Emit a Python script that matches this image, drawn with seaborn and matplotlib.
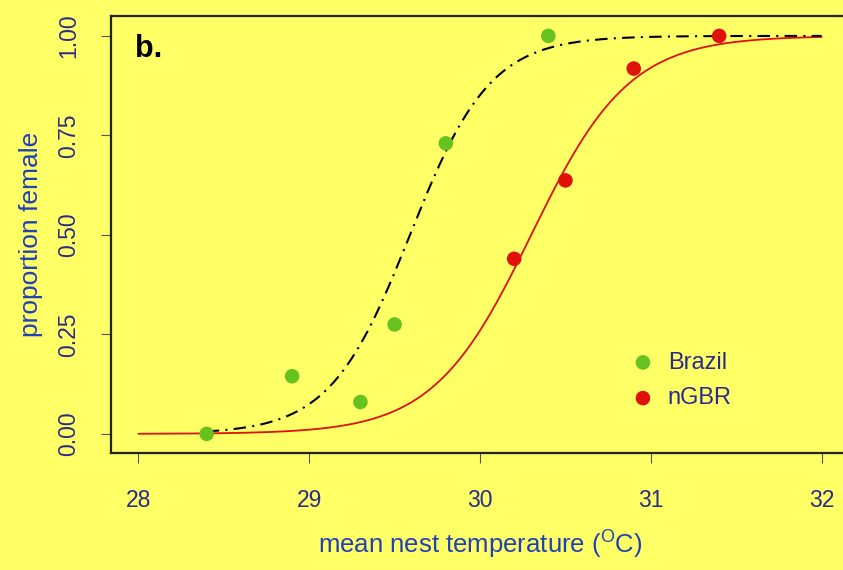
import numpy as np
import pandas as pd
import matplotlib
matplotlib.use("Agg")
import matplotlib.pyplot as plt
import seaborn as sns

# ---- data ----
brazil_temp = [28.4, 28.9, 29.3, 29.5, 29.8, 30.4]
brazil_prop = [0.00, 0.145, 0.08, 0.275, 0.73, 1.00]
ngbr_temp = [30.2, 30.5, 30.9, 31.4]
ngbr_prop = [0.44, 0.637, 0.918, 1.00]

# fitted logistic curves (pivotal temperature, slope), curve ranges
brazil_pivot, brazil_slope = 29.59, 4.26
ngbr_pivot, ngbr_slope = 30.30, 3.49
brazil_range = (28.4, 32.0)
ngbr_range = (28.0, 32.0)

xticks = [28, 29, 30, 31, 32]
yticks = [0.00, 0.25, 0.50, 0.75, 1.00]
ytick_labels = ["0.00", "0.25", "0.50", "0.75", "1.00"]

BG = "#FFFF66"
GREEN = "#66C21E"
RED = "#E0100A"
NAVY = "#2B2B8A"
BLUE = "#2040B8"

sns.set_theme(style="ticks")
plt.rcParams["font.family"] = ["Liberation Sans", "DejaVu Sans"]
plt.rcParams["mathtext.fontset"] = "custom"
plt.rcParams["mathtext.rm"] = "Liberation Sans"

fig = plt.figure(figsize=(8.43, 5.70), dpi=100, facecolor=BG)
ax = fig.add_axes([111 / 843, 117 / 570, 738 / 843, 437 / 570])
ax.set_facecolor(BG)


def logistic(t, pivot, slope):
    return 1.0 / (1.0 + np.exp(-slope * (t - pivot)))


tb = np.linspace(*brazil_range, 300)
tn = np.linspace(*ngbr_range, 300)
curves_b = pd.DataFrame({"t": tb, "p": logistic(tb, brazil_pivot, brazil_slope)})
curves_n = pd.DataFrame({"t": tn, "p": logistic(tn, ngbr_pivot, ngbr_slope)})

sns.lineplot(data=curves_n, x="t", y="p", ax=ax, color=RED, linewidth=1.3, zorder=2)
sns.lineplot(data=curves_b, x="t", y="p", ax=ax, color="black", linewidth=1.5, zorder=3)
ax.lines[-1].set_dashes([6, 3, 1, 3])

pts_b = pd.DataFrame({"t": brazil_temp, "p": brazil_prop})
pts_n = pd.DataFrame({"t": ngbr_temp, "p": ngbr_prop})
sns.scatterplot(data=pts_b, x="t", y="p", ax=ax, color=GREEN, s=110,
                edgecolor="none", zorder=4, label="Brazil")
sns.scatterplot(data=pts_n, x="t", y="p", ax=ax, color=RED, s=110,
                edgecolor="none", zorder=4, label="nGBR")

ax.set_xlim(27.84, 32.16)
ax.set_ylim(-0.048, 1.05)
ax.set_xticks(xticks)
ax.set_xticklabels([str(x) for x in xticks])
ax.set_yticks(yticks)
ax.set_yticklabels(ytick_labels, rotation=90, va="center")

for sp in ax.spines.values():
    sp.set_color("#222222")
    sp.set_linewidth(1.6)

ax.tick_params(axis="both", direction="out", length=7, width=0.8,
               color="#555555", labelcolor=NAVY, labelsize=16.5)
ax.tick_params(axis="x", pad=19)
ax.tick_params(axis="y", pad=15)

ax.set_xlabel("mean nest temperature ($^{\\mathrm{O}}$C)", fontsize=18.5,
              color=BLUE, labelpad=11)
ax.set_ylabel("proportion female", fontsize=19, color=BLUE, labelpad=10.5)

ax.text(0.033, 0.925, "b.", transform=ax.transAxes, fontsize=22,
        fontweight="bold", color="black", ha="left", va="center")

leg = ax.legend(loc="center left", bbox_to_anchor=(0.684, 0.166), frameon=False,
                fontsize=17, handlelength=1.5, handletextpad=0.3,
                labelspacing=0.58, markerscale=1.0, borderaxespad=0)
for t in leg.get_texts():
    t.set_color(NAVY)

fig.savefig("out.png", dpi=100, facecolor=BG)
